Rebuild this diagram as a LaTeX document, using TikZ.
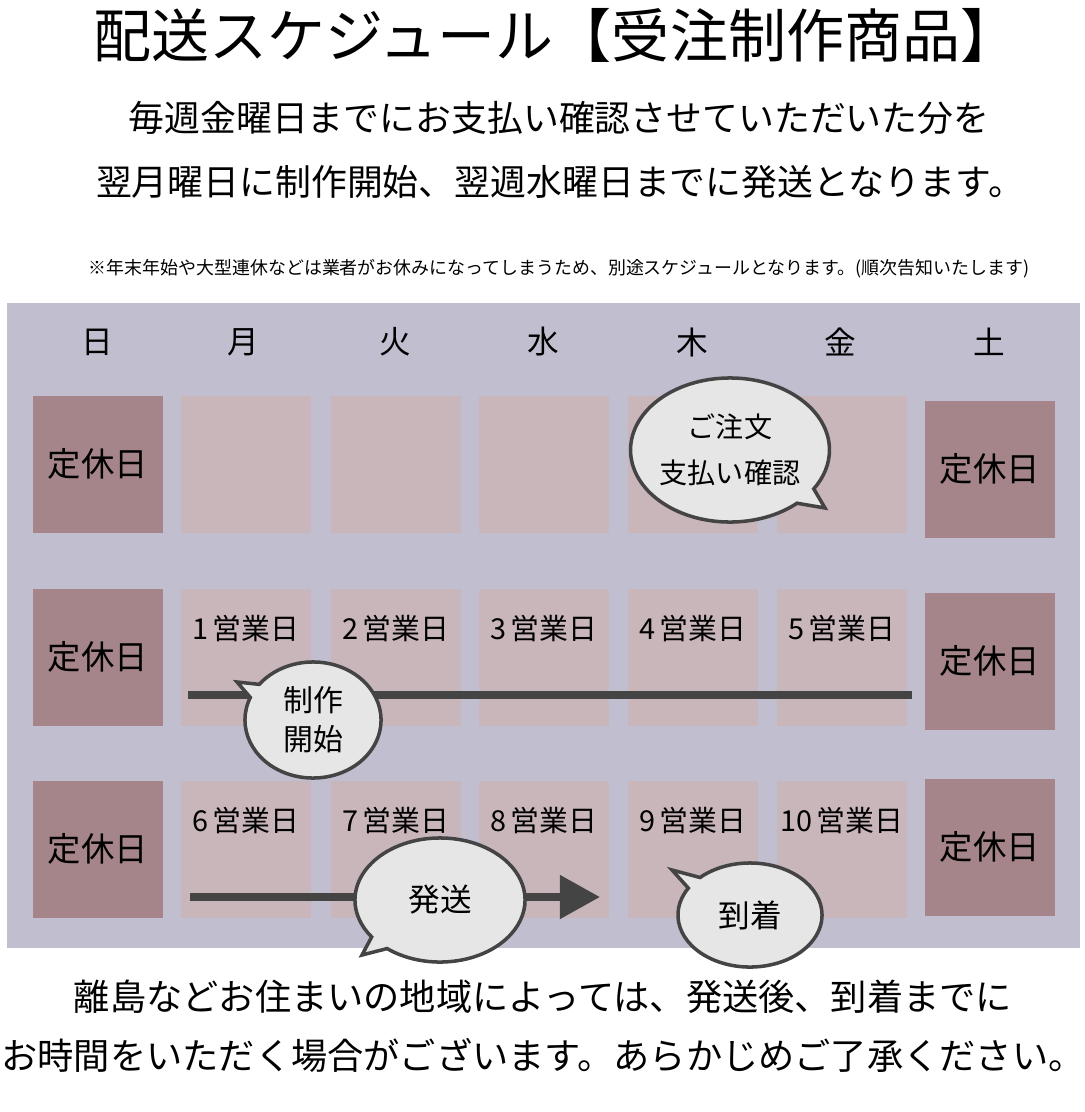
\documentclass[tikz,border=0pt]{standalone}
\usepackage{fontspec}
\setmainfont{Noto Sans CJK JP}
\usetikzlibrary{arrows.meta}
\usetikzlibrary{positioning}
\usetikzlibrary{shapes.callouts}
\definecolor{Panel}{RGB}{193,190,208}
\definecolor{Weekday}{RGB}{201,182,187}
\definecolor{Holiday}{RGB}{166,133,138}
\definecolor{Bubble}{RGB}{230,230,230}
\definecolor{Ink}{RGB}{68,68,68}
\begin{document}
\begin{tikzpicture}[x=0.01cm, y=-0.01cm,
  day/.style={rectangle, fill=Weekday, minimum width=1.3cm, minimum height=1.37cm, anchor=north west, inner sep=0pt},
  off/.style={rectangle, fill=Holiday, minimum width=1.3cm, minimum height=1.37cm, anchor=north west, font=\fontsize{9.5}{10}\selectfont},
  head/.style={font=\fontsize{9}{10}\selectfont},
  work/.style={font=\fontsize{8.2}{9}\selectfont, anchor=north},
  talk/.style={ellipse callout, fill=Bubble, draw=Ink, line width=1pt, font=\fontsize{8}{10}\selectfont, align=center, inner sep=0pt}
  ]
\useasboundingbox (0,0) rectangle (1085,1112);

% titles
\node (title) at (556,35) {\fontsize{16.5}{18}\selectfont 配送スケジュール【受注制作商品】};
\node (sub1) at (559,118) {\fontsize{10.2}{11}\selectfont 毎週金曜日までにお支払い確認させていただいた分を};
\node (sub2) at (560,182) {\fontsize{10.2}{11}\selectfont 翌月曜日に制作開始、翌週水曜日までに発送となります。};
\node (note) at (559,269) {\fontsize{5.1}{6}\selectfont ※年末年始や大型連休などは業者がお休みになってしまうため、別途スケジュールとなります。(順次告知いたします)};

\fill [Panel] (7,303) rectangle (1080,948);

% headers
\foreach \x/\d in {97/日,243/月,395/火,543/水,692/木,840/金,989/土}
  \node [head] (h\x) at (\x,342) {\d};

% weekday cells
\foreach \x/\n in {180/a,330/b,478/c,627/d,776/e} {
  \node [day] (r1\n) at (\x,395) {};
  \node [day] (r2\n) at (\x,588) {};
  \node [day] (r3\n) at (\x,780) {};
}
% holidays
\node [off] (sun1) at (32,395) {定休日};
\node [off] (sun2) at (32,588) {定休日};
\node [off] (sun3) at (32,780) {定休日};
\node [off] (sat1) at (924,400) {定休日};
\node [off] (sat2) at (924,592) {定休日};
\node [off] (sat3) at (924,778) {定休日};

% business days
\foreach \n/\k in {a/1,b/2,c/3,d/4,e/5}
  \node [work] (w\k) at ([yshift=-0.15cm]r2\n.north) {\k\,営業日};
\foreach \n/\k in {a/6,b/7,c/8,d/9,e/10}
  \node [work] (w\k) at ([yshift=-0.15cm]r3\n.north) {\k\,営業日};

% lines
\coordinate (m0) at (188,695);
\coordinate (m1) at (912,695);
\coordinate (s0) at (190,897);
\coordinate (s1) at (600,897);
\draw [Ink, line width=2.2pt] (m0) -- (m1);
\draw [Ink, line width=2.2pt, -{Triangle[length=0.4cm, width=0.42cm]}] (s0) -- (s1);

% bubbles
\node [talk, minimum width=1.7cm, minimum height=1.44cm, callout absolute pointer={(825,508)}] (order) at (730,450) {ご注文\\[3pt]支払い確認};
\node [talk, minimum width=1.36cm, minimum height=1.16cm, font=\fontsize{8.5}{11}\selectfont, callout absolute pointer={(237,682)}] (start) at (313,720) {制作\\開始};
\node [talk, minimum width=1.7cm, minimum height=1.24cm, font=\fontsize{9}{10}\selectfont, callout absolute pointer={(362,955)}] (ship) at (440,900) {発送};
\node [talk, minimum width=1.44cm, minimum height=1.04cm, font=\fontsize{9}{10}\selectfont, callout absolute pointer={(672,870)}] (arrive) at (750,915) {到着};

% footer
\node (foot1) at (543,997) {\fontsize{10.3}{12}\selectfont 離島などお住まいの地域によっては、発送後、到着までに};
\node (foot2) at (543,1055) {\fontsize{10.3}{12}\selectfont お時間をいただく場合がございます。あらかじめご了承ください。};
\end{tikzpicture}
\end{document}
